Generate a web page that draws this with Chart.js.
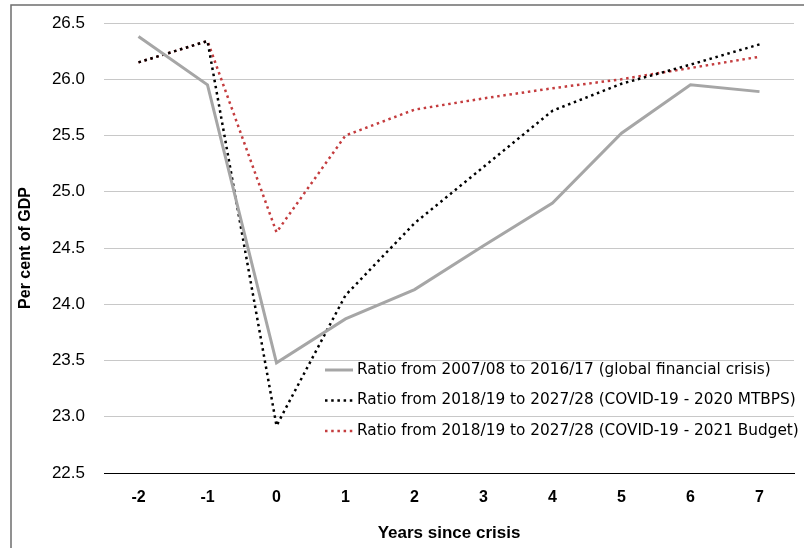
<!DOCTYPE html>
<html>
<head>
<meta charset="utf-8">
<script src="https://cdn.jsdelivr.net/npm/chart.js@4.4.1/dist/chart.umd.min.js"></script>
<style>
  html, body { margin: 0; padding: 0; background: #fff; }
  #wrap { position: relative; width: 804px; height: 548px; }
</style>
</head>
<body>
<div id="wrap"><canvas id="chart" width="804" height="548"></canvas></div>
<script>
"use strict";

// categories (years since crisis)
var years = ["-2", "-1", "0", "1", "2", "3", "4", "5", "6", "7"];

// series values, per cent of GDP
var gfcRatio = [26.38, 25.95, 23.48, 23.87, 24.13, 24.52, 24.90, 25.52, 25.95, 25.89];
var mtbpsRatio = [26.15, 26.34, 22.92, 24.08, 24.72, 25.22, 25.72, 25.96, 26.13, 26.31];
var budgetRatio = [26.15, 26.34, 24.64, 25.50, 25.73, 25.83, 25.92, 26.00, 26.10, 26.20];

var seriesLabels = [
    "Ratio from 2007/08 to 2016/17 (global financial crisis)",
    "Ratio from 2018/19 to 2027/28 (COVID-19 - 2020 MTBPS)",
    "Ratio from 2018/19 to 2027/28 (COVID-19 - 2021 Budget)"
];

// y ticks
var yMin = 22.5, yMax = 26.5, yStep = 0.5;

var fontFamily = "'Liberation Sans', Arial, sans-serif";
var legendFont = "15.3px 'DejaVu Sans', sans-serif";

// outer frame, like the pasted excel chart box
var framePlugin = {
    id: "frame",
    beforeDraw: function (chart) {
        var ctx = chart.ctx;
        ctx.save();
        ctx.strokeStyle = "#6e6e6e";
        ctx.lineWidth = 1.5;
        ctx.strokeRect(11, 5, 900, 700);
        ctx.restore();
    }
};

// legend drawn inside the plot area, bottom right
var innerLegend = {
    id: "innerLegend",
    afterDraw: function (chart) {
        var ctx = chart.ctx, x0 = 325, y0 = 370, rowH = 30.5;
        ctx.save();
        ctx.font = legendFont;
        ctx.textBaseline = "middle";
        chart.data.datasets.forEach(function (ds, i) {
            var y = y0 + i * rowH;
            ctx.strokeStyle = ds.borderColor;
            ctx.lineWidth = ds.borderWidth;
            ctx.setLineDash(ds.borderDash || []);
            ctx.beginPath();
            ctx.moveTo(x0, y);
            ctx.lineTo(x0 + 28, y);
            ctx.stroke();
            ctx.setLineDash([]);
            ctx.fillStyle = "#000";
            ctx.fillText(ds.label, x0 + 32, y);
        });
        ctx.restore();
    }
};

var chart = new Chart(document.getElementById("chart").getContext("2d"), {
    type: "line",
    data: {
        labels: years,
        datasets: [
            {
                label: seriesLabels[0],
                data: gfcRatio,
                borderColor: "#a6a6a6",
                borderWidth: 3,
                pointRadius: 0,
                tension: 0
            },
            {
                label: seriesLabels[1],
                data: mtbpsRatio,
                borderColor: "#000000",
                borderWidth: 2.5,
                borderDash: [2.5, 3.7],
                pointRadius: 0,
                tension: 0
            },
            {
                label: seriesLabels[2],
                data: budgetRatio,
                borderColor: "#c43c3e",
                borderWidth: 2.5,
                borderDash: [2.5, 3.7],
                pointRadius: 0,
                tension: 0
            }
        ]
    },
    options: {
        responsive: false,
        animation: false,
        layout: { padding: { left: 0, top: 23, right: 10, bottom: 0 } },
        plugins: {
            legend: { display: false },
            tooltip: { enabled: false }
        },
        scales: {
            x: {
                offset: true,
                grid: { display: false, drawTicks: false },
                border: { color: "#000", width: 1 },
                ticks: {
                    color: "#000",
                    padding: 15,
                    font: { family: fontFamily, size: 16, weight: "bold" }
                },
                title: {
                    display: true,
                    text: "Years since crisis",
                    color: "#000",
                    padding: { top: 15 },
                    font: { family: fontFamily, size: 17, weight: "bold" }
                },
                afterFit: function (scale) { scale.height = 75; }
            },
            y: {
                min: yMin,
                max: yMax,
                grid: {
                    drawTicks: false,
                    color: function (c) { return c.tick && c.tick.value === yMin ? "#000" : "#c8c8c8"; }
                },
                border: { display: false },
                ticks: {
                    stepSize: yStep,
                    color: "#000",
                    padding: 19,
                    font: { family: fontFamily, size: 17 },
                    callback: function (v) { return Number(v).toFixed(1); }
                },
                title: {
                    display: true,
                    text: "Per cent of GDP",
                    color: "#000",
                    padding: { top: 16, bottom: 0 },
                    font: { family: fontFamily, size: 16, weight: "bold" }
                },
                afterFit: function (scale) {
                    scale.width = 104;
                    // tick padding otherwise pushes the plot top down
                    scale.paddingTop = 0;
                    scale.paddingBottom = 0;
                }
            }
        }
    },
    plugins: [framePlugin, innerLegend]
});
</script>
</body>
</html>
